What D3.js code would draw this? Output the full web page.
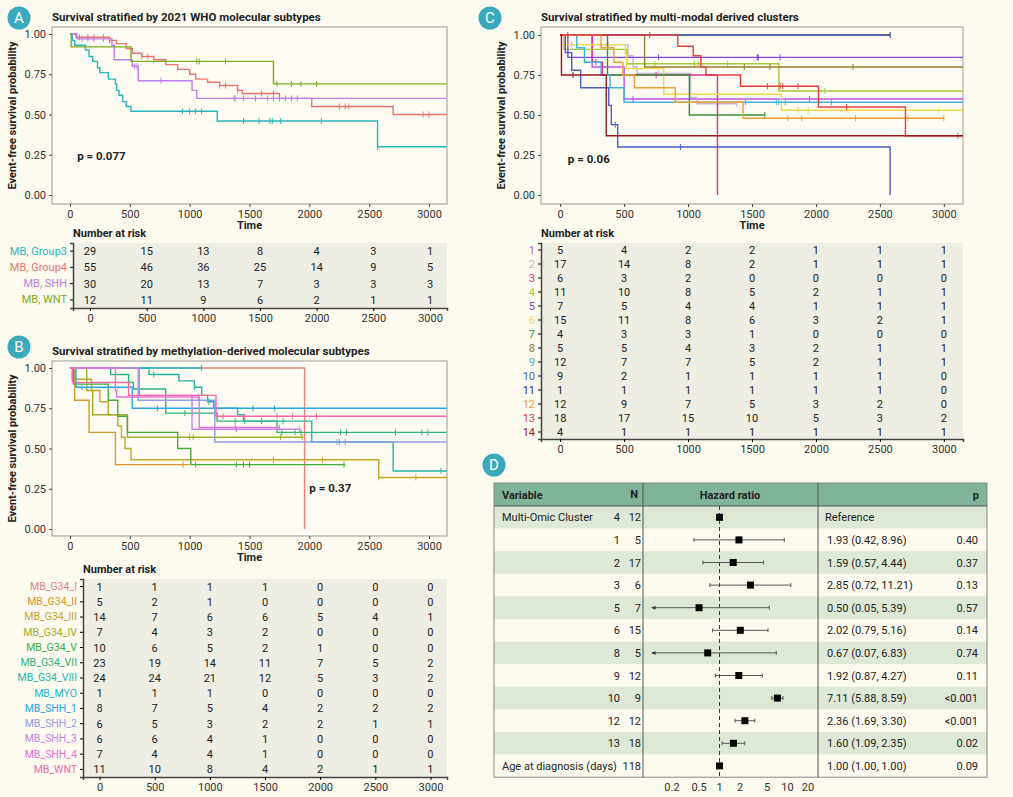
<!DOCTYPE html>
<meta charset="utf-8">
<script src="https://d3js.org/d3.v7.min.js"></script>
<style>
  body { margin: 0; background: #fdfaf0; }
  text { font-family: Roboto, "Noto Sans", sans-serif; }
</style>
<div id="fig"></div>
<script>
// ---------- data ----------
var riskTimes = [0, 500, 1000, 1500, 2000, 2500, 3000];

// panel A
var groupsA = ["MB, Group3", "MB, Group4", "MB, SHH", "MB, WNT"];
var colorsA = ["#2bb5bd", "#e8766e", "#c07ced", "#7aac1e"];
var stepsA = [
  [[0,1],[20,0.96],[40,0.93],[130,0.90],[160,0.86],[190,0.83],[230,0.79],[250,0.76],[320,0.72],[380,0.69],[390,0.65],[410,0.62],[440,0.58],[470,0.55],[510,0.52],[1230,0.46],[2570,0.30],[3150,0.30]],
  [[0,1],[50,0.98],[330,0.96],[390,0.94],[470,0.91],[520,0.88],[600,0.86],[700,0.84],[800,0.81],[900,0.78],[1000,0.75],[1050,0.72],[1150,0.70],[1250,0.68],[1400,0.65],[1440,0.63],[1750,0.60],[2020,0.55],[2700,0.50],[3150,0.50]],
  [[0,1],[60,0.97],[350,0.93],[370,0.84],[520,0.80],[570,0.71],[1020,0.65],[1060,0.60],[3150,0.60]],
  [[0,1],[10,0.92],[510,0.83],[1700,0.69],[3150,0.69]]
];
var censA = [
  [940,1000,1050,1100,1450,1580,1670,1690,1760,2100,2570],
  [80,150,200,280,330,600,650,700,1250,1300,1400,1600,1700,1750,1800,1850,1900,2250,2300,2330,2950,3000],
  [100,150,200,280,540,560,760,1370,1380,1450,1550,1650,1700],
  [1060,1080,1300,1730,1850,1930,2060]
];
var riskA = [[29,15,13,8,4,3,1],[55,46,36,25,14,9,5],[30,20,13,7,3,3,3],[12,11,9,6,2,1,1]];

// panel B
var groupsB = ["MB_G34_I","MB_G34_II","MB_G34_III","MB_G34_IV","MB_G34_V","MB_G34_VII","MB_G34_VIII","MB_MYO","MB_SHH_1","MB_SHH_2","MB_SHH_3","MB_SHH_4","MB_WNT"];
var colorsB = ["#e8857a","#d9962a","#c4a52a","#a3ad2a","#43ad3a","#2db37c","#25b6a5","#22b8d0","#28a8e2","#8f9ce6","#c482e8","#e672d6","#f06ca8"];
var stepsB = [
  [[0,1],[1960,0],[1960,0]],
  [[0,1],[40,0.80],[160,0.60],[380,0.40],[1000,0.40]],
  [[0,1],[20,0.93],[180,0.86],[250,0.79],[320,0.71],[400,0.64],[430,0.57],[460,0.50],[510,0.43],[2580,0.32],[3150,0.32]],
  [[0,1],[140,0.86],[190,0.71],[480,0.57],[1950,0.57]],
  [[0,1],[30,0.90],[320,0.80],[400,0.70],[480,0.60],[900,0.50],[1010,0.40],[2300,0.40]],
  [[0,1],[340,0.96],[490,0.91],[530,0.87],[800,0.72],[1230,0.67],[1730,0.60],[3150,0.60]],
  [[0,1],[660,0.96],[910,0.92],[1040,0.88],[1100,0.83],[1150,0.79],[1200,0.75],[1400,0.71],[1450,0.67],[2020,0.54],[2700,0.36],[3150,0.36]],
  [[0,1],[1100,1]],
  [[0,1],[50,0.88],[520,0.75],[3150,0.75]],
  [[0,1],[570,0.80],[1210,0.54],[3150,0.54]],
  [[0,1],[580,0.83],[1020,0.62],[1920,0.62]],
  [[0,1],[380,0.86],[390,0.82],[1080,0.63],[1750,0.63]],
  [[0,1],[20,0.91],[490,0.83],[1220,0.70],[3150,0.70]]
];
var censB = [[],[945],[1700,2110,2580,2890],[1000,1030,1760,1940],[1050,1390,1450,1500,2290],[960,1380,1770,1880,1930,2260,2310,2720,2940,2990],[700,1040,1160,1460,1600,1780,2250,3100],[1100],[100,730,1530,1710],[2230,2300],[1390,1920],[1070,1380,1750],[1280,1460,1730,1860,2060]];
var riskB = [[1,1,1,1,0,0,0],[5,2,1,0,0,0,0],[14,7,6,6,5,4,1],[7,4,3,2,0,0,0],[10,6,5,2,1,0,0],[23,19,14,11,7,5,2],[24,24,21,12,5,3,2],[1,1,1,0,0,0,0],[8,7,5,4,2,2,2],[6,5,3,2,2,1,1],[6,6,4,1,0,0,0],[7,4,4,1,0,0,0],[11,10,8,4,2,1,1]];

// panel C
var groupsC = ["1","2","3","4","5","6","7","8","9","10","11","12","13","14"];
var colorsC = ["#c050e0","#c4b6d8","#e0308c","#a6c83a","#8446d6","#f2d84a","#3a8f3a","#957d2c","#40b2d6","#4a5ec6","#26368f","#f0a032","#e84040","#9a1818"];
var stepsC = [
  [[0,1],[250,0.80],[500,0.60],[3150,0.60]],
  [[0,1],[30,0.94],[530,0.87],[570,0.80],[600,0.76],[1020,0.61],[1070,0.57],[1380,0.57]],
  [[0,1],[250,0.83],[330,0.75],[1230,0],[1230,0]],
  [[0,1],[30,0.91],[520,0.82],[1710,0.65],[3150,0.65]],
  [[0,1],[60,0.86],[3150,0.86]],
  [[0,1],[30,0.94],[510,0.88],[520,0.79],[810,0.63],[1730,0.53],[3150,0.53]],
  [[0,1],[370,0.75],[1010,0.50],[1600,0.50]],
  [[0,1],[660,0.80],[3150,0.80]],
  [[0,1],[130,0.92],[190,0.83],[320,0.75],[390,0.67],[500,0.58],[3150,0.58]],
  [[0,1],[40,0.89],[90,0.78],[160,0.67],[380,0.56],[400,0.44],[450,0.30],[2580,0],[2580,0]],
  [[0,1],[2580,1]],
  [[0,1],[320,0.92],[420,0.83],[490,0.75],[580,0.67],[900,0.58],[1430,0.48],[3000,0.48]],
  [[0,1],[920,0.93],[1040,0.87],[1100,0.80],[1140,0.75],[1410,0.68],[2020,0.55],[2700,0.37],[3150,0.37]],
  [[0,1],[10,0.75],[360,0.37],[3150,0.37]]
];
var censC = [[570,1950],[90,380,770,1380],[60,280,750],[740,1050,1080,1310,2070],[770,1540,1550,1720],[1860,1940,2250,2960],[1600],[1440,1640,2290],[1450,1690,1710,1760,2120],[430,940],[2580],[1780,1890,2310,2720,3000],[700,1620,1720,1740,1860,2240,3110],[100]];
var riskC = [[5,4,2,2,1,1,1],[17,14,8,2,1,1,1],[6,3,2,0,0,0,0],[11,10,8,5,2,1,1],[7,5,4,4,1,1,1],[15,11,8,6,3,2,1],[4,3,3,1,0,0,0],[5,5,4,3,2,1,1],[12,7,7,5,2,1,1],[9,2,1,1,1,1,0],[1,1,1,1,1,1,0],[12,9,7,5,3,2,0],[18,17,15,10,5,3,2],[4,1,1,1,1,1,1]];

// panel D
var fVar = ["Multi-Omic Cluster","","","","","","","","","","","Age at diagnosis (days)"];
var fLevel = ["4","1","2","3","5","6","8","9","10","12","13",""];
var fN = [12,5,17,6,7,15,5,12,9,12,18,118];
var fHR = [1,1.93,1.59,2.85,0.50,2.02,0.67,1.92,7.11,2.36,1.60,1.00];
var fLo = [1,0.42,0.57,0.72,0.05,0.79,0.07,0.87,5.88,1.69,1.09,1.00];
var fHi = [1,8.96,4.44,11.21,5.39,5.16,6.83,4.27,8.59,3.30,2.35,1.00];
var fP = ["","0.40","0.37","0.13","0.57","0.14","0.74","0.11","<0.001","<0.001","0.02","0.09"];
var fTicks = [0.2,0.5,1,2,5,10,20];

// ---------- drawing ----------
var svg = d3.select("#fig").append("svg").attr("width", 1013).attr("height", 797);
svg.append("rect").attr("width", 1013).attr("height", 797).attr("fill", "#fdfaf0");

function badge(x, y, t) {
  svg.append("circle").attr("cx", x).attr("cy", y).attr("r", 11.5).attr("fill", "#3aa9bb");
  svg.append("text").attr("x", x).attr("y", y + 5).attr("text-anchor", "middle")
    .attr("fill", "white").attr("font-size", 15).text(t);
}

function km(o) {
  var x = d3.scaleLinear().domain([-150, 3150]).range([o.x0, o.x1]);
  var y = d3.scaleLinear().domain([0, 1]).range([o.yb, o.yt]);
  var g = svg.append("g");
  g.append("text").attr("x", o.x0).attr("y", o.py0 - 6).attr("font-size", 11.5)
    .attr("font-weight", "bold").attr("fill", "#222").text(o.title);
  g.append("rect").attr("x", o.x0).attr("y", o.py0).attr("width", o.x1 - o.x0)
    .attr("height", o.py1 - o.py0).attr("fill", "#fefcf3").attr("stroke", "#999");
  var clip = "clip" + o.id;
  g.append("clipPath").attr("id", clip).append("rect").attr("x", o.x0).attr("y", o.py0)
    .attr("width", o.x1 - o.x0).attr("height", o.py1 - o.py0);
  var pl = g.append("g").attr("clip-path", "url(#" + clip + ")");
  var line = d3.line().x(function(d) { return x(d[0]); }).y(function(d) { return y(d[1]); })
    .curve(d3.curveStepAfter);
  o.steps.forEach(function(s, i) {
    pl.append("path").attr("d", line(s)).attr("fill", "none")
      .attr("stroke", o.colors[i]).attr("stroke-width", 1.4);
    o.cens[i].forEach(function(t) {
      var v = s[0][1];
      s.forEach(function(p) { if (p[0] <= t) v = p[1]; });
      pl.append("line").attr("x1", x(t)).attr("x2", x(t)).attr("y1", y(v) - 3).attr("y2", y(v) + 3)
        .attr("stroke", o.colors[i]).attr("stroke-width", 1);
    });
  });
  var ax = g.append("g").attr("transform", "translate(0," + o.py1 + ")")
    .call(d3.axisBottom(x).tickValues(riskTimes).tickFormat(d3.format("d")).tickSize(3));
  var ay = g.append("g").attr("transform", "translate(" + o.x0 + ",0)")
    .call(d3.axisLeft(y).tickValues([0, 0.25, 0.5, 0.75, 1]).tickFormat(d3.format(".2f")).tickSize(3));
  [ax, ay].forEach(function(a) {
    a.select(".domain").remove();
    a.selectAll("text").attr("font-size", 11).attr("fill", "#333");
    a.selectAll("line").attr("stroke", "#444");
  });
  g.append("text").attr("x", (o.x0 + o.x1) / 2).attr("y", o.py1 + 25).attr("text-anchor", "middle")
    .attr("font-size", 11).attr("font-weight", "bold").attr("fill", "#222").text("Time");
  g.append("text").attr("transform", "translate(" + (o.x0 - 36) + "," + ((o.py0 + o.py1) / 2) + ")rotate(-90)")
    .attr("text-anchor", "middle").attr("font-size", 11).attr("font-weight", "bold").attr("fill", "#222")
    .text("Event-free survival probability");
  g.append("text").attr("x", x(o.pt[0])).attr("y", y(o.pt[1])).attr("font-size", 11.5)
    .attr("font-weight", "bold").attr("fill", "#222").text(o.p);

  // risk table
  var tx = d3.scaleLinear().domain([-150, 3150]).range([o.tx0, o.x1]);
  g.append("text").attr("x", o.tx0).attr("y", o.ty0 - 6).attr("font-size", 11).attr("font-weight", "bold")
    .attr("fill", "#222").text("Number at risk");
  g.append("rect").attr("x", o.tx0).attr("y", o.ty0).attr("width", o.x1 - o.tx0)
    .attr("height", o.ty1 - o.ty0).attr("fill", "#eeeee4");
  var ry = d3.scaleBand().domain(o.groups).range([o.ty0, o.ty1]);
  o.risk.forEach(function(r, i) {
    var yy = ry(o.groups[i]) + ry.bandwidth() / 2 + 4;
    r.forEach(function(v, j) {
      g.append("text").attr("x", tx(riskTimes[j])).attr("y", yy).attr("text-anchor", "middle")
        .attr("font-size", 11).attr("fill", "#222").text(v);
    });
  });
  var ta = g.append("g").attr("transform", "translate(0," + o.ty1 + ")")
    .call(d3.axisBottom(tx).tickValues(riskTimes).tickFormat(d3.format("d")).tickSize(3));
  ta.select(".domain").attr("stroke", "#444").attr("stroke-width", 1.5);
  ta.selectAll("text").attr("font-size", 11).attr("fill", "#333");
  var la = g.append("g").attr("transform", "translate(" + o.tx0 + ",0)")
    .call(d3.axisLeft(ry).tickSize(3));
  la.select(".domain").attr("stroke", "#444").attr("stroke-width", 1.5);
  la.selectAll("text").attr("font-size", o.lfs).attr("fill", function(d, i) { return o.colors[i]; });
}

badge(19, 18, "A");
km({ id: "A", title: "Survival stratified by 2021 WHO molecular subtypes", x0: 52, x1: 447, py0: 27, py1: 204,
  yt: 34, yb: 195, steps: stepsA, cens: censA, colors: colorsA, p: "p = 0.077", pt: [60, 0.22],
  tx0: 73, ty0: 243, ty1: 308, groups: groupsA, risk: riskA, lfs: 11 });

badge(19, 347, "B");
km({ id: "B", title: "Survival stratified by methylation-derived molecular subtypes", x0: 52, x1: 447, py0: 361, py1: 536,
  yt: 368, yb: 529, steps: stepsB, cens: censB, colors: colorsB, p: "p = 0.37", pt: [2000, 0.23],
  tx0: 83, ty0: 579, ty1: 777, groups: groupsB, risk: riskB, lfs: 10.5 });

badge(490, 18, "C");
km({ id: "C", title: "Survival stratified by multi-modal derived clusters", x0: 541, x1: 963, py0: 27, py1: 204,
  yt: 35, yb: 195, steps: stepsC, cens: censC, colors: colorsC, p: "p = 0.06", pt: [60, 0.2],
  tx0: 541, ty0: 243, ty1: 439, groups: groupsC, risk: riskC, lfs: 11 });

// forest plot
badge(494, 465, "D");
var fx0 = 494, fx1 = 987, c1 = 643, c2 = 818, hy0 = 483, hy1 = 506, rh = 22.6;
var fg = svg.append("g");
fg.append("rect").attr("x", fx0).attr("y", hy0).attr("width", fx1 - fx0).attr("height", hy1 - hy0).attr("fill", "#7fb49b");
fVar.forEach(function(v, i) {
  fg.append("rect").attr("x", fx0).attr("y", hy1 + i * rh).attr("width", fx1 - fx0).attr("height", rh)
    .attr("fill", i % 2 === 0 ? "#dde8d6" : "#fdfaf0");
});
var fy1 = hy1 + fVar.length * rh;
fg.append("rect").attr("x", fx0).attr("y", hy0).attr("width", fx1 - fx0).attr("height", fy1 - hy0)
  .attr("fill", "none").attr("stroke", "#888");
[c1, c2].forEach(function(c) {
  fg.append("line").attr("x1", c).attr("x2", c).attr("y1", hy0).attr("y2", fy1).attr("stroke", "#555");
});
fg.append("line").attr("x1", fx0).attr("x2", fx1).attr("y1", hy1).attr("y2", hy1).attr("stroke", "#555");
fg.append("text").attr("x", 502).attr("y", 499).attr("font-size", 11).attr("font-weight", "bold").attr("fill", "#222").text("Variable");
fg.append("text").attr("x", 638).attr("y", 498).attr("text-anchor", "end").attr("font-size", 11).attr("font-weight", "bold").attr("fill", "#222").text("N");
fg.append("text").attr("x", 730).attr("y", 499).attr("text-anchor", "middle").attr("font-size", 11).attr("font-weight", "bold").attr("fill", "#222").text("Hazard ratio");
fg.append("text").attr("x", 979).attr("y", 499).attr("text-anchor", "end").attr("font-size", 11).attr("font-weight", "bold").attr("fill", "#222").text("p");

var hx = d3.scaleLog().domain([0.2, 20]).range([672, 808]);
var hMin = 0.1, hMax = 30;
fg.append("line").attr("x1", hx(1)).attr("x2", hx(1)).attr("y1", hy1).attr("y2", fy1)
  .attr("stroke", "#333").attr("stroke-dasharray", "4,3");
fVar.forEach(function(v, i) {
  var cy = hy1 + i * rh + rh / 2;
  var ty = cy + 4;
  if (v) fg.append("text").attr("x", 502).attr("y", ty).attr("font-size", 11).attr("fill", "#222").text(v);
  fg.append("text").attr("x", 620).attr("y", ty).attr("text-anchor", "end").attr("font-size", 11).attr("fill", "#222").text(fLevel[i]);
  fg.append("text").attr("x", 641).attr("y", ty).attr("text-anchor", "end").attr("font-size", 11).attr("fill", "#222").text(fN[i]);
  var lo = Math.max(fLo[i], hMin), hi = Math.min(fHi[i], hMax);
  if (fHi[i] > fLo[i]) {
    fg.append("line").attr("x1", hx(lo)).attr("x2", hx(hi)).attr("y1", cy).attr("y2", cy).attr("stroke", "#555");
    if (fLo[i] < hMin) {
      fg.append("path").attr("d", "M" + hx(lo) + "," + cy + "l4,-2l0,4z").attr("fill", "#333");
    } else {
      fg.append("line").attr("x1", hx(lo)).attr("x2", hx(lo)).attr("y1", cy - 2).attr("y2", cy + 2).attr("stroke", "#555");
    }
    fg.append("line").attr("x1", hx(hi)).attr("x2", hx(hi)).attr("y1", cy - 2).attr("y2", cy + 2).attr("stroke", "#555");
  }
  fg.append("rect").attr("x", hx(fHR[i]) - 3.5).attr("y", cy - 3.5).attr("width", 7).attr("height", 7).attr("fill", "#000");
  var est = i === 0 ? "Reference" : fHR[i].toFixed(2) + " (" + fLo[i].toFixed(2) + ", " + fHi[i].toFixed(2) + ")";
  fg.append("text").attr("x", i === 0 ? 825 : 827).attr("y", ty).attr("font-size", 11).attr("fill", "#222").text(est);
  fg.append("text").attr("x", 978).attr("y", ty).attr("text-anchor", "end").attr("font-size", 11).attr("fill", "#222").text(fP[i]);
});
fTicks.forEach(function(t) {
  fg.append("text").attr("x", hx(t)).attr("y", fy1 + 14).attr("text-anchor", "middle").attr("font-size", 11)
    .attr("fill", "#333").text(t);
});
</script>
